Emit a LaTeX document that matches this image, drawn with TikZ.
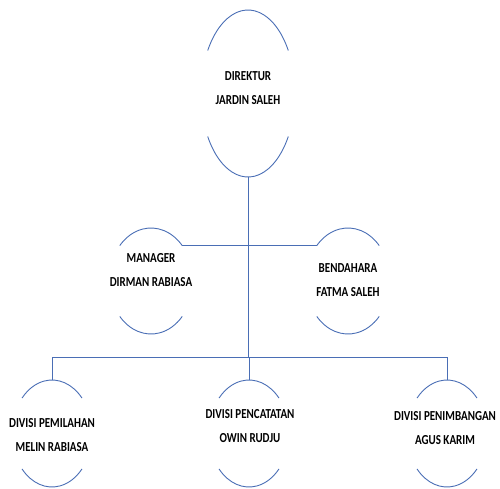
\documentclass[tikz,border=0pt]{standalone}
\usepackage{fontspec}
\setmainfont{Carlito}
\usetikzlibrary{shapes.geometric,calc}
\newcommand\tallcell[1]{\scalebox{1}[1.25]{\begin{tabular}{@{}c@{}}#1\end{tabular}}}
\begin{document}
\begin{tikzpicture}[x=1pt,y=-1pt,
  conn/.style={draw=arcblue,line width=0.9pt},
  arcline/.style={draw=arcblue,line width=0.9pt},
  holder/.style={ellipse,draw=none,inner sep=0pt},
  lbl/.style={align=center,font=\fontsize{11}{19.2}\selectfont\bfseries,inner sep=0pt}]
\definecolor{arcblue}{HTML}{4A6EB5}
\useasboundingbox (0,0) rectangle (500,488);
% ellipse holders
\node[holder,minimum width=94pt,minimum height=167pt] (D) at (248,93.5) {};
\node[holder,minimum width=84pt,minimum height=106pt] (M) at (151,281) {};
\node[holder,minimum width=84pt,minimum height=106pt] (B) at (348,281) {};
\node[holder,minimum width=80pt,minimum height=107pt] (P1) at (52,433.5) {};
\node[holder,minimum width=80pt,minimum height=107pt] (P2) at (249,433.5) {};
\node[holder,minimum width=80pt,minimum height=107pt] (P3) at (447,433.5) {};
% visible arcs (top and bottom of each ellipse)
\foreach \n/\rx/\ry/\t in {D/47/83.5/31,M/42/53/42,B/42/53/42,P1/40/53.5/41.5,P2/40/53.5/41.5,P3/40/53.5/41.5}{
  \draw[arcline] ($(\n.center)+(180+\t:\rx pt and \ry pt)$) arc[start angle=180+\t,end angle=360-\t,x radius=\rx pt,y radius=\ry pt];
  \draw[arcline] ($(\n.center)+(\t:\rx pt and \ry pt)$) arc[start angle=\t,end angle=180-\t,x radius=\rx pt,y radius=\ry pt];
}
% labels
\node[lbl] (dt) at (248,87.5) {\tallcell{DIREKTUR\\JARDIN SALEH}};
\node[lbl] (mt) at (151,269.5) {\tallcell{MANAGER\\DIRMAN RABIASA}};
\node[lbl] (bt) at (348,280) {\tallcell{BENDAHARA\\FATMA SALEH}};
\node[lbl] (p1t) at (52,434.5) {\tallcell{DIVISI PEMILAHAN\\MELIN RABIASA}};
\node[lbl] (p2t) at (250,426) {\tallcell{DIVISI PENCATATAN\\OWIN RUDJU}};
\node[lbl] (p3t) at (445,427.5) {\tallcell{DIVISI PENIMBANGAN\\AGUS KARIM}};
% connectors
\coordinate (J) at ($(D.south)+(0,180)$);
\coordinate (Mr) at ($(M.center)+(42:42pt and 53pt)$);
\coordinate (Bl) at ($(B.center)+(138:42pt and 53pt)$);
\draw[conn] (D.south) -- (J);
\draw[conn] (Mr) -- (Bl);
\draw[conn] (P1.north |- J) -- (P3.north |- J);
\draw[conn] (P1.north |- J) -- (P1.north);
\draw[conn] (P2.north |- J) -- (P2.north);
\draw[conn] (P3.north |- J) -- (P3.north);
\end{tikzpicture}
\end{document}
